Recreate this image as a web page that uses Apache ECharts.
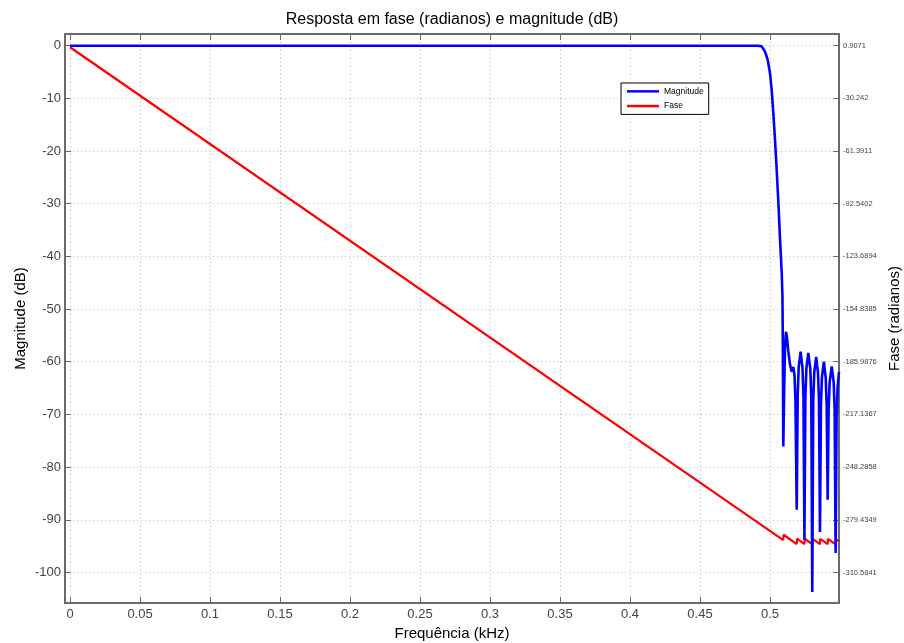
<!DOCTYPE html>
<html>
<head>
<meta charset="utf-8">
<script src="https://cdn.jsdelivr.net/npm/echarts@6/dist/echarts.min.js"></script>
<style>
  html, body { margin: 0; padding: 0; background: #fff; }
  #chart { width: 904px; height: 643px; }
</style>
</head>
<body>
<div id="chart"></div>
<script>
// Frequency response of a low-pass FIR filter: magnitude (dB) and unwrapped phase (rad)

// Magnitude response samples
const magFreq = [0, 0.1, 0.2, 0.3, 0.4, 0.488, 0.4916, 0.4941, 0.4964, 0.4984, 0.5000, 0.5012, 0.5024,
  0.5036, 0.5048, 0.5059, 0.5071, 0.5084, 0.5089, 0.5092, 0.5095,
  0.5101, 0.5107, 0.5114, 0.5122, 0.5130, 0.5143, 0.5155, 0.5166, 0.5175, 0.5182, 0.5191,
  0.5198, 0.5205, 0.5219, 0.5232, 0.5239, 0.5246,
  0.5253, 0.5260, 0.5274, 0.5288, 0.5295, 0.5302,
  0.5309, 0.5316, 0.5330, 0.5343, 0.5350, 0.5357,
  0.5364, 0.5371, 0.5385, 0.5398, 0.5405, 0.5412,
  0.5419, 0.5426, 0.5441, 0.5455, 0.5462, 0.5469,
  0.5476, 0.5483, 0.5493];
const magDb = [0, 0, 0, 0, 0, 0, -0.02, -0.13, -1.1, -2.7, -5.2, -8.4, -12.8,
  -17.9, -23.6, -29.3, -36.3, -43.2, -47.5, -58.0, -76.1,
  -66.0, -57.5, -54.3, -55.5, -57.8, -60.5, -61.9, -61.0, -62.5, -67.5, -88.1,
  -66.4, -61.1, -58.1, -61.1, -66.4, -93.8,
  -66.6, -61.3, -58.3, -61.3, -66.6, -103.7,
  -67.4, -62.1, -59.1, -62.1, -67.4, -92.3,
  -68.3, -63.0, -60.0, -63.0, -68.3, -86.2,
  -69.2, -63.9, -60.9, -63.9, -69.2, -96.3,
  -70.2, -64.9, -61.9];

// Phase response vertices (jumps of +pi at the stopband zeros)
const phaseFreq = [0, 0.5095, 0.5097, 0.5191, 0.5193, 0.5246, 0.5248, 0.5302, 0.5304,
  0.5357, 0.5359, 0.5412, 0.5414, 0.5469, 0.5471, 0.5493];
const phaseRad = [0, -291.43, -288.29, -293.78, -290.64, -293.79, -290.65, -293.85, -290.71,
  -293.86, -290.72, -293.87, -290.73, -293.99, -290.85, -292.22];

// Tick positions and labels
const xTicks = [0, 0.05, 0.1, 0.15, 0.2, 0.25, 0.3, 0.35, 0.4, 0.45, 0.5];
const xTickLabels = ['0', '0.05', '0.1', '0.15', '0.2', '0.25', '0.3', '0.35', '0.4', '0.45', '0.5'];
const magTicks = [0, -10, -20, -30, -40, -50, -60, -70, -80, -90, -100];
const phaseTicks = [0.9071, -30.242, -61.3911, -92.5402, -123.6894, -154.8385, -185.9876,
  -217.1367, -248.2858, -279.4349, -310.5841];
const phaseTickLabels = ['0.9071', '-30.242', '-61.3911', '-92.5402', '-123.6894', '-154.8385',
  '-185.9876', '-217.1367', '-248.2858', '-279.4349', '-310.5841'];

const FONT = '"Liberation Sans", Arial, Helvetica, sans-serif';
const frameColor = '#6a6a6a';
const labelColor = '#444';
const gridLine = { show: true, lineStyle: { color: '#b8b8b8', width: 1, type: [1, 3] } };

function nearestLabel(values, labels, v) {
  let best = 0;
  for (let i = 1; i < values.length; i++) {
    if (Math.abs(values[i] - v) < Math.abs(values[best] - v)) best = i;
  }
  return labels[best];
}

const magData = magFreq.map((f, i) => [f, magDb[i]]);
const phaseData = phaseFreq.map((f, i) => [f, phaseRad[i]]);

const chart = echarts.init(document.getElementById('chart'), null, { renderer: 'canvas' });
chart.setOption({
  animation: false,
  backgroundColor: '#fff',
  textStyle: { fontFamily: FONT },
  title: {
    text: 'Resposta em fase (radianos) e magnitude (dB)',
    left: 'center',
    top: 7,
    textStyle: { fontFamily: FONT, fontSize: 16, fontWeight: 'normal', color: '#000' }
  },
  legend: {
    data: ['Magnitude', 'Fase'],
    orient: 'vertical',
    left: 621,
    top: 83,
    icon: 'rect',
    itemWidth: 32,
    itemHeight: 2.5,
    itemGap: 4,
    padding: [3, 5, 3, 6],
    backgroundColor: '#fff',
    borderColor: '#000',
    borderWidth: 1,
    borderRadius: 0,
    textStyle: { fontFamily: FONT, fontSize: 8.5, lineHeight: 10.7, color: '#000' }
  },
  grid: { left: 65, right: 65, top: 34, bottom: 40, containLabel: false, outerBoundsMode: 'none' },
  xAxis: [
    {
      type: 'value',
      position: 'bottom',
      min: -0.0036,
      max: 0.5493,
      name: 'Frequência (kHz)',
      nameLocation: 'middle',
      nameGap: 18,
      nameTextStyle: { fontFamily: FONT, fontSize: 15, color: '#000' },
      axisLine: { show: true, onZero: false, lineStyle: { color: frameColor, width: 2 } },
      axisTick: { show: true, inside: true, length: 6, customValues: xTicks,
                  lineStyle: { color: frameColor, width: 1 } },
      axisLabel: { show: true, customValues: xTicks, margin: 5, fontSize: 13, color: labelColor,
                   fontFamily: FONT, formatter: v => nearestLabel(xTicks, xTickLabels, v) },
      splitLine: gridLine
    },
    {
      type: 'value',
      position: 'top',
      min: -0.0036,
      max: 0.5493,
      axisLine: { show: true, onZero: false, lineStyle: { color: frameColor, width: 2 } },
      axisTick: { show: true, inside: true, length: 6, customValues: xTicks,
                  lineStyle: { color: frameColor, width: 1 } },
      axisLabel: { show: false },
      splitLine: { show: false }
    }
  ],
  yAxis: [
    {
      type: 'value',
      position: 'left',
      min: -105.8,
      max: 2.22,
      name: 'Magnitude (dB)',
      nameLocation: 'middle',
      nameGap: 37,
      nameMoveOverlap: false,
      nameRotate: 90,
      nameTextStyle: { fontFamily: FONT, fontSize: 15, color: '#000' },
      axisLine: { show: true, onZero: false, lineStyle: { color: frameColor, width: 2 } },
      axisTick: { show: true, inside: true, length: 6, customValues: magTicks,
                  lineStyle: { color: frameColor, width: 1 } },
      axisLabel: { show: true, customValues: magTicks, margin: 4, fontSize: 13, color: labelColor,
                   fontFamily: FONT, formatter: v => String(Math.round(v)) },
      splitLine: gridLine
    },
    {
      type: 'value',
      position: 'right',
      min: -328.65,
      max: 7.82,
      name: 'Fase (radianos)',
      nameLocation: 'middle',
      nameGap: 47,
      nameRotate: 90,
      nameTextStyle: { fontFamily: FONT, fontSize: 15, color: '#000' },
      axisLine: { show: true, onZero: false, lineStyle: { color: frameColor, width: 2 } },
      axisTick: { show: true, inside: true, length: 6, customValues: phaseTicks,
                  lineStyle: { color: frameColor, width: 1 } },
      axisLabel: { show: true, customValues: phaseTicks, margin: 4, fontSize: 7.5, color: labelColor,
                   fontFamily: FONT, formatter: v => nearestLabel(phaseTicks, phaseTickLabels, v) },
      splitLine: { show: false }
    }
  ],
  series: [
    {
      name: 'Fase',
      type: 'line',
      xAxisIndex: 0,
      yAxisIndex: 1,
      data: phaseData,
      showSymbol: false,
      symbol: 'none',
      z: 3,
      itemStyle: { color: '#ff0000' },
      lineStyle: { color: '#ff0000', width: 2.2 }
    },
    {
      name: 'Magnitude',
      type: 'line',
      xAxisIndex: 0,
      yAxisIndex: 0,
      data: magData,
      showSymbol: false,
      symbol: 'none',
      z: 4,
      itemStyle: { color: '#0000ff' },
      lineStyle: { color: '#0000ff', width: 2.6 }
    }
  ]
});
</script>
</body>
</html>
